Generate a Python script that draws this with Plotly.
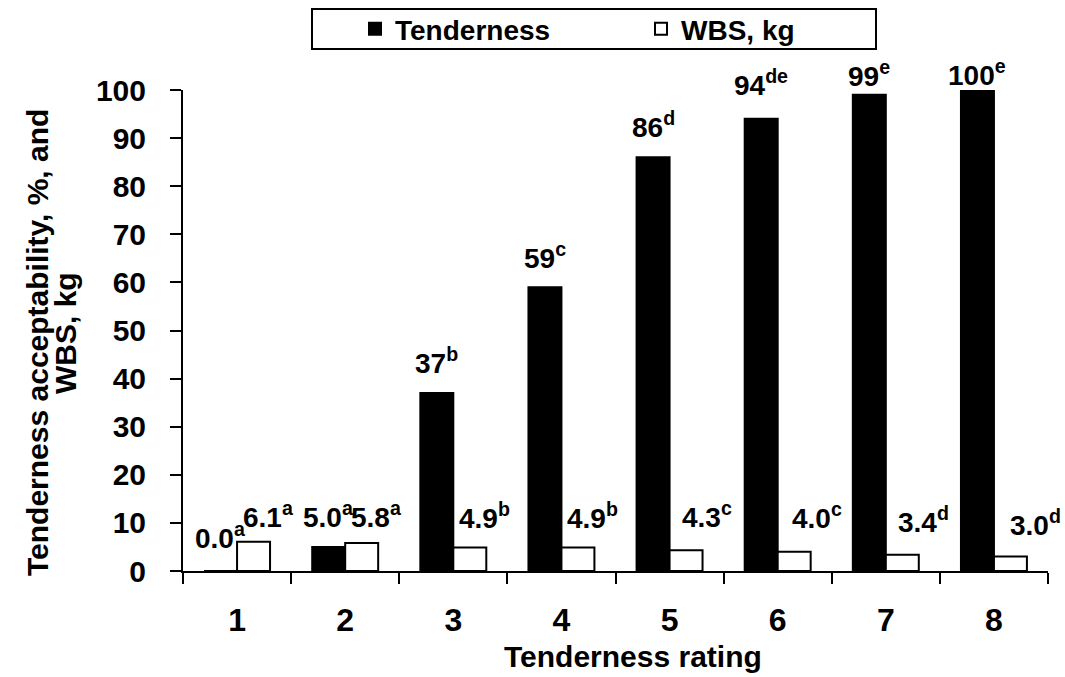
import plotly.graph_objects as go

# ---- data ----
ratings = ["1", "2", "3", "4", "5", "6", "7", "8"]
tenderness = [0.0, 5.0, 37, 59, 86, 94, 99, 100]
wbs = [6.1, 5.8, 4.9, 4.9, 4.3, 4.0, 3.4, 3.0]
tend_text = ["0.0", "5.0", "37", "59", "86", "94", "99", "100"]
tend_sup = ["a", "a", "b", "c", "d", "de", "e", "e"]
wbs_text = ["6.1", "5.8", "4.9", "4.9", "4.3", "4.0", "3.4", "3.0"]
wbs_sup = ["a", "a", "b", "b", "c", "c", "d", "d"]
y_title_lines = ["Tenderness acceptability, %, and", "WBS, kg"]
x_title = "Tenderness rating"

# ---- style ----
FONT = "Liberation Sans"
W, H = 1065, 677
L, R, T, B = 183, 17, 90, 106
BARGAP = 0.39
tend_gap = [23, 20, 20, 19, 20, 24, 9, 5]      # px between bar top and label
wbs_gap = [15, 16, 19, 19, 23, 24, 23, 22]
wbs_dx = [15, 15, 15, 15, 21, 23, 21, 25]      # px shift right of white bar
GLYPH_PAD = 8

plot_w = W - L - R
plot_h = H - T - B
cat_px = plot_w / len(ratings)
bar_px = cat_px * (1 - BARGAP) / 2

fig = go.Figure()
fig.add_trace(go.Bar(name="Tenderness", x=ratings, y=tenderness,
                     marker=dict(color="black", line=dict(color="black", width=2))))
fig.add_trace(go.Bar(name="WBS, kg", x=ratings, y=wbs,
                     marker=dict(color="white", line=dict(color="black", width=2))))

lab_font = dict(family=FONT, size=28, color="black", weight="bold")
for i in range(len(ratings)):
    fig.add_annotation(x=i, y=tenderness[i], xref="x", yref="y",
                       text=f"{tend_text[i]}<sup>{tend_sup[i]}</sup>",
                       showarrow=False, yanchor="bottom", xanchor="center",
                       xshift=-bar_px / 2, yshift=tend_gap[i] - GLYPH_PAD,
                       font=lab_font)
    fig.add_annotation(x=i, y=wbs[i], xref="x", yref="y",
                       text=f"{wbs_text[i]}<sup>{wbs_sup[i]}</sup>",
                       showarrow=False, yanchor="bottom", xanchor="center",
                       xshift=bar_px / 2 + wbs_dx[i], yshift=wbs_gap[i] - GLYPH_PAD,
                       font=lab_font)

def px_x(p):
    return (p - L) / plot_w
def px_y(p):
    return (H - B - p) / plot_h

title_font = dict(family=FONT, size=30, color="black", weight="bold")
# y-axis title (two lines)
for txt, cx, cy in zip(y_title_lines, [37, 65], [343, 333]):
    fig.add_annotation(x=px_x(cx), y=px_y(cy), xref="paper", yref="paper",
                       text=txt, textangle=-90, showarrow=False,
                       xanchor="center", yanchor="middle", font=title_font)
# x-axis title
fig.add_annotation(x=px_x(633), y=px_y(656), xref="paper", yref="paper",
                   text=x_title, showarrow=False,
                   xanchor="center", yanchor="middle", font=title_font)

# legend box
fig.add_shape(type="rect", xref="paper", yref="paper",
              x0=px_x(312), x1=px_x(876), y0=px_y(49), y1=px_y(9),
              line=dict(color="black", width=2), fillcolor="rgba(0,0,0,0)")

fig.update_layout(
    width=W, height=H,
    margin=dict(l=L, r=R, t=T, b=B, autoexpand=False),
    paper_bgcolor="white", plot_bgcolor="white",
    barmode="group", bargap=BARGAP, bargroupgap=0,
    showlegend=True,
    legend=dict(orientation="h", xref="container", yref="container",
                x=355 / W, y=1 - 29 / H, xanchor="left", yanchor="middle",
                bgcolor="rgba(0,0,0,0)", borderwidth=0, itemwidth=30,
                entrywidth=241, entrywidthmode="pixels",
                font=dict(family=FONT, size=28, color="black", weight="bold")),
    font=dict(family=FONT, color="black"),
)
fig.update_xaxes(type="category", range=[-0.5, len(ratings) - 0.5], autorange=False,
                 tickson="boundaries", ticks="outside", ticklen=11,
                 tickwidth=2, tickcolor="black", showline=True, linecolor="black",
                 linewidth=2, showgrid=False, zeroline=False, automargin=False,
                 ticklabelstandoff=20,
                 tickfont=dict(family=FONT, size=32, color="black", weight="bold"))
fig.update_yaxes(range=[0, 100], autorange=False, dtick=10, ticks="outside", ticklen=11,
                 tickwidth=2, tickcolor="black", showline=True, linecolor="black",
                 linewidth=2, showgrid=False, zeroline=False, ticklabelstandoff=18,
                 automargin=False,
                 tickfont=dict(family=FONT, size=30, color="black", weight="bold"))

fig.write_html("out.html", config={"displayModeBar": False},
               post_script="document.body.style.margin='0';"
                           "document.body.style.overflow='hidden';")
